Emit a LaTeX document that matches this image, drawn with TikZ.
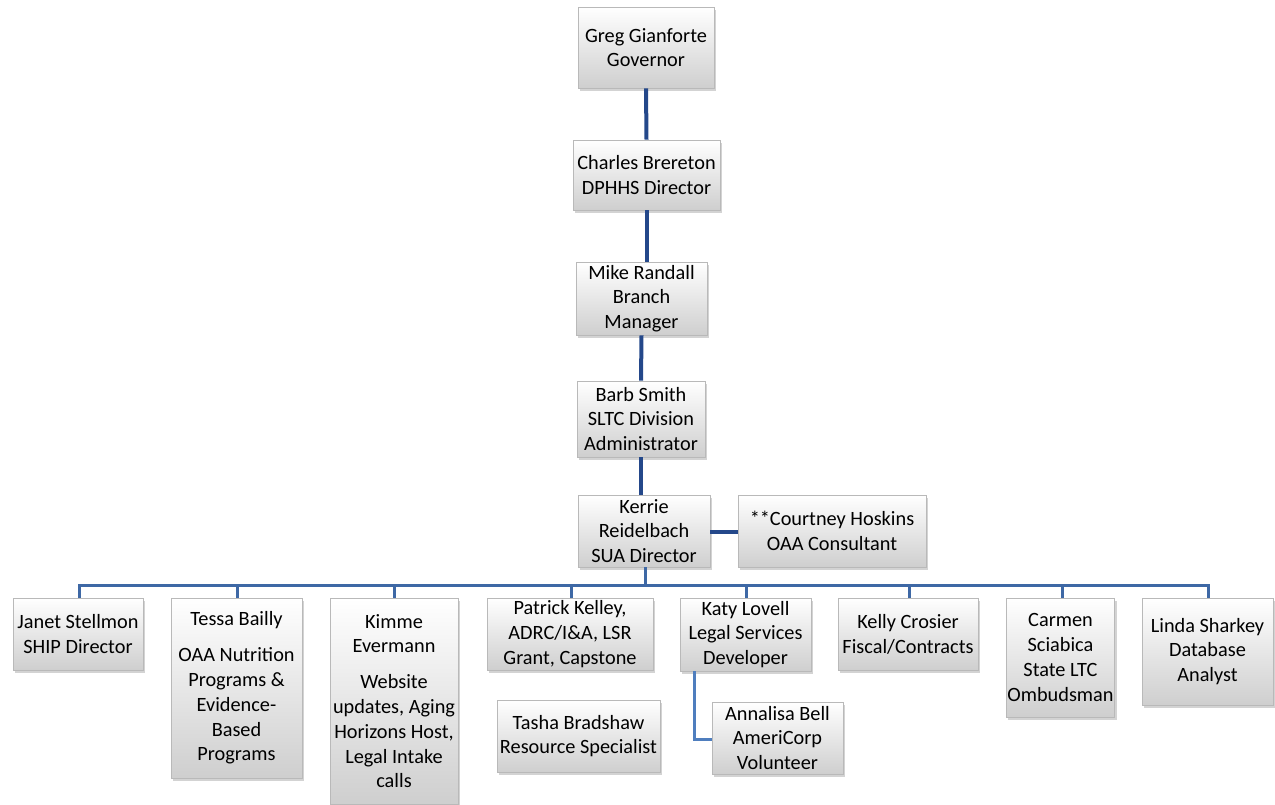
\documentclass[tikz,border=0pt]{standalone}
\usepackage{fontspec}
\setmainfont{Carlito}
\usetikzlibrary{shadows}
\definecolor{navy}{RGB}{36,72,138}
\definecolor{busblue}{RGB}{62,104,165}
\definecolor{litblue}{RGB}{79,126,190}
\tikzset{
  box/.style={rectangle, draw=gray!55, line width=0.6pt, top color=white, bottom color=gray!38,
    align=center, inner sep=1pt, text=black,
    font=\fontsize{20.3}{24.8}\selectfont,
    drop shadow={opacity=0.35, shadow xshift=2pt, shadow yshift=-3pt}},
  chain/.style={draw=navy, line width=4pt},
  bus/.style={draw=busblue, line width=3pt},
  sub/.style={draw=litblue, line width=3pt},
}
\begin{document}
\begin{tikzpicture}[x=1pt,y=-1pt]
\useasboundingbox (0,0) rectangle (1275,805);
% top chain
\node[box, minimum width=136, minimum height=81] (gov) at (646,47.5) {Greg Gianforte\\Governor};
\node[box, minimum width=147, minimum height=70] (brer) at (646.5,175) {Charles Brereton\\DPHHS Director};
\node[box, minimum width=131, minimum height=73] (rand) at (641.5,298.5) {Mike Randall\\Branch\\Manager};
\node[box, minimum width=128, minimum height=76] (barb) at (641,419) {Barb Smith\\SLTC Division\\Administrator};
\node[box, minimum width=132, minimum height=72] (kerr) at (644,531) {Kerrie\\Reidelbach\\SUA Director};
\node[box, minimum width=188, minimum height=72] (court) at (832,531) {**Courtney Hoskins\\OAA Consultant};
% bottom row
\node[box, minimum width=130, minimum height=72] (janet) at (78,634) {Janet Stellmon\\SHIP Director};
\node[box, minimum width=131, minimum height=180] (tessa) at (236.5,688) {Tessa Bailly\\[11pt]OAA Nutrition\\Programs \&\\Evidence-\\Based\\Programs};
\node[box, minimum width=128, minimum height=206] (kimme) at (394,701) {Kimme\\Evermann\\[11pt]Website\\updates, Aging\\Horizons Host,\\Legal Intake\\calls};
\node[box, minimum width=166, minimum height=72] (pat) at (570,634) {Patrick Kelley,\\ADRC/I\&A, LSR\\Grant, Capstone};
\node[box, minimum width=163, minimum height=72] (tasha) at (578.5,736) {Tasha Bradshaw\\Resource Specialist};
\node[box, minimum width=131, minimum height=73] (katy) at (745.5,634.5) {Katy Lovell\\Legal Services\\Developer};
\node[box, minimum width=131, minimum height=72] (anna) at (777.5,738) {Annalisa Bell\\AmeriCorp\\Volunteer};
\node[box, minimum width=140, minimum height=72] (kelly) at (908,634) {Kelly Crosier\\Fiscal/Contracts};
\node[box, minimum width=107, minimum height=119] (carmen) at (1060.5,657.5) {Carmen\\Sciabica\\State LTC\\Ombudsman};
\node[box, minimum width=131, minimum height=107] (linda) at (1207.5,651.5) {Linda Sharkey\\Database\\Analyst};
% connectors
\draw[chain] (gov.south) -- (brer.north);
\draw[chain] (brer.south) -- (rand.north -| brer.south);
\draw[chain] (rand.south) -- (barb.north);
\draw[chain] (barb.south) -- (barb.south |- kerr.north);
\draw[chain] (kerr.east) ++(0,1) -- (court.west |- 0,532);
\coordinate (busL) at (79,585);
\coordinate (busR) at (1208,585);
\draw[bus] (kerr.south -| 645,0) -- (645,585);
\draw[bus, line cap=rect] (busL) -- (busR);
\draw[bus] (busL) -- (busL |- janet.north);
\draw[bus] (237,585) -- (237,0 |- tessa.north);
\draw[bus] (394,585) -- (kimme.north);
\draw[bus] (571,585) -- (571,0 |- pat.north);
\draw[bus] (746,585) -- (746,0 |- katy.north);
\draw[bus] (909,585) -- (909,0 |- kelly.north);
\draw[bus] (1062,585) -- (1062,0 |- carmen.north);
\draw[bus] (busR) -- (busR |- linda.north);
\draw[sub] (694,0 |- katy.south) |- (anna.west |- 0,739);
\end{tikzpicture}
\end{document}
